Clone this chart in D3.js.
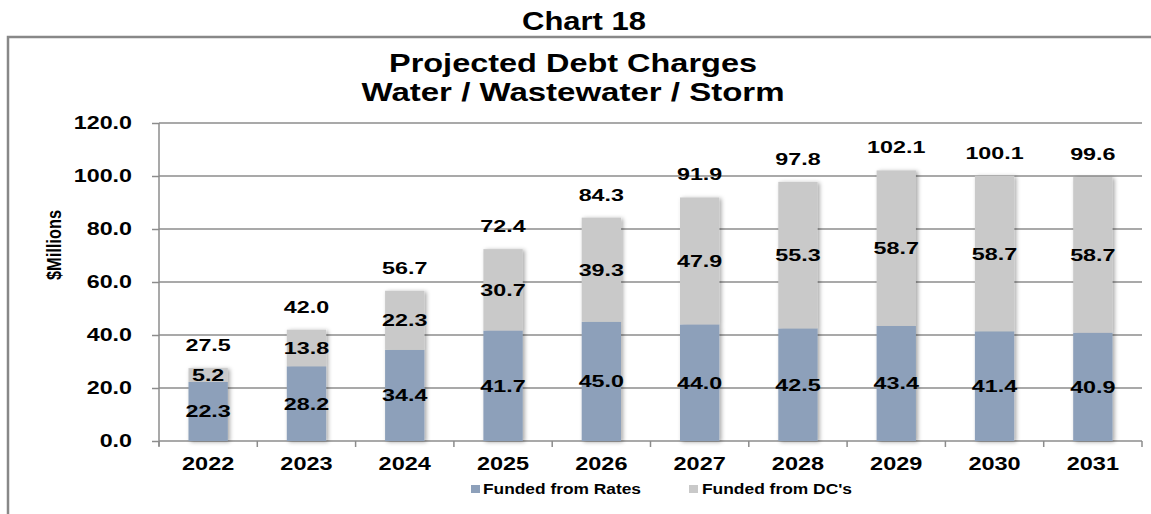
<!DOCTYPE html>
<html>
<head>
<meta charset="utf-8">
<script src="https://cdn.jsdelivr.net/npm/d3@7"></script>
<style>
  html, body { margin: 0; padding: 0; background: #fff; }
  svg { display: block; }
  text { font-family: "Liberation Sans", Arial, sans-serif; }
</style>
</head>
<body>
<svg id="chart" width="1151" height="514"></svg>
<script>
const years = ["2022","2023","2024","2025","2026","2027","2028","2029","2030","2031"];
const fundedFromRates = [22.3, 28.2, 34.4, 41.7, 45.0, 44.0, 42.5, 43.4, 41.4, 40.9];
const fundedFromDCs   = [5.2, 13.8, 22.3, 30.7, 39.3, 47.9, 55.3, 58.7, 58.7, 58.7];
const totals          = [27.5, 42.0, 56.7, 72.4, 84.3, 91.9, 97.8, 102.1, 100.1, 99.6];
const yTicks = [0, 20, 40, 60, 80, 100, 120];
const seriesNames = ["Funded from Rates", "Funded from DC's"];
const seriesColors = ["#8DA0BA", "#C9C9C9"];

const svg = d3.select("#chart");
const plot = { left: 159, right: 1142, top: 123, bottom: 441 };

const x = d3.scaleBand().domain(years).range([plot.left, plot.right])
  .paddingInner(0.6).paddingOuter(0.3);
const y = d3.scaleLinear().domain([0, 120]).range([plot.bottom, plot.top]);
const fmt = d3.format(".1f");

// stretch helper: widen text horizontally
function stretch(sel, sx) {
  sel.each(function() {
    const L = this.getComputedTextLength();
    d3.select(this).attr("textLength", L * sx).attr("lengthAdjust", "spacingAndGlyphs");
  });
}

// defs: shadow
const defs = svg.append("defs");
const f = defs.append("filter").attr("id", "shadow").attr("x", "-30%").attr("y", "-10%").attr("width", "160%").attr("height", "120%");
f.append("feDropShadow").attr("dx", 2).attr("dy", 1).attr("stdDeviation", 2)
  .attr("flood-color", "#000").attr("flood-opacity", 0.35);

// outer frame
svg.append("path").attr("d", "M8,514 V37 H1151")
  .attr("fill", "none").attr("stroke", "#888").attr("stroke-width", 2.5);

// titles
svg.append("text").attr("x", 584).attr("y", 29.5).attr("text-anchor", "middle")
  .attr("font-size", 26).attr("font-weight", "bold").attr("fill", "#000")
  .attr("textLength", 124).attr("lengthAdjust", "spacingAndGlyphs").text("Chart 18");
svg.append("text").attr("x", 573).attr("y", 72).attr("text-anchor", "middle")
  .attr("font-size", 26).attr("font-weight", "bold").attr("fill", "#000")
  .attr("textLength", 368).attr("lengthAdjust", "spacingAndGlyphs").text("Projected Debt Charges");
svg.append("text").attr("x", 573).attr("y", 101).attr("text-anchor", "middle")
  .attr("font-size", 26).attr("font-weight", "bold").attr("fill", "#000")
  .attr("textLength", 423).attr("lengthAdjust", "spacingAndGlyphs").text("Water / Wastewater / Storm");

// gridlines
svg.append("g").selectAll("line").data(yTicks.filter(d => d > 0)).join("line")
  .attr("x1", plot.left).attr("x2", plot.right)
  .attr("y1", d => y(d)).attr("y2", d => y(d))
  .attr("stroke", "#8c8c8c").attr("stroke-width", 1.5);

// y axis
const yAxis = svg.append("g").attr("transform", `translate(${plot.left},0)`)
  .call(d3.axisLeft(y).tickValues(yTicks).tickFormat(fmt).tickSize(7).tickPadding(20));
yAxis.select(".domain").attr("stroke", "#8c8c8c").attr("stroke-width", 1.5)
  .attr("d", `M0,${plot.top}V${plot.bottom + 5}`);
yAxis.selectAll(".tick line").attr("stroke", "#8c8c8c").attr("stroke-width", 1.5);
yAxis.selectAll(".tick text").attr("font-size", 17.5).attr("font-weight", "bold")
  .attr("fill", "#000").attr("font-family", "Liberation Sans, Arial, sans-serif");
stretch(yAxis.selectAll(".tick text"), 1.33);

// y axis title (glyphs widened horizontally like the rest of the picture)
svg.append("text").attr("transform", "translate(61,245) scale(1.3,1) rotate(-90)")
  .attr("text-anchor", "middle").attr("font-size", 15).attr("font-weight", "bold")
  .attr("fill", "#000").attr("textLength", 70).attr("lengthAdjust", "spacingAndGlyphs")
  .text("$Millions");

// x axis line and boundary ticks
svg.append("line").attr("x1", plot.left).attr("x2", plot.right)
  .attr("y1", plot.bottom).attr("y2", plot.bottom)
  .attr("stroke", "#8c8c8c").attr("stroke-width", 1.5);
const step = x.step();
const bounds = d3.range(years.length + 1).map(i => x(years[0]) - x.paddingOuter() * step + i * step);
svg.append("g").selectAll("line").data(bounds).join("line")
  .attr("x1", d => d).attr("x2", d => d)
  .attr("y1", plot.bottom).attr("y2", plot.bottom + 6)
  .attr("stroke", "#8c8c8c").attr("stroke-width", 1.5);

// x labels
const xl = svg.append("g").selectAll("text").data(years).join("text")
  .attr("x", d => x(d) + x.bandwidth() / 2).attr("y", 469.5)
  .attr("text-anchor", "middle").attr("font-size", 18.5).attr("font-weight", "bold")
  .attr("fill", "#000").text(d => d);
stretch(xl, 1.27);

// bars
const data = years.map((yr, i) => ({ yr, r: fundedFromRates[i], dc: fundedFromDCs[i], t: totals[i] }));
const bars = svg.append("g").attr("filter", "url(#shadow)");
bars.selectAll("rect.rates").data(data).join("rect").attr("class", "rates")
  .attr("x", d => x(d.yr)).attr("width", x.bandwidth())
  .attr("y", d => y(d.r)).attr("height", d => y(0) - y(d.r))
  .attr("fill", seriesColors[0]);
bars.selectAll("rect.dcs").data(data).join("rect").attr("class", "dcs")
  .attr("x", d => x(d.yr)).attr("width", x.bandwidth())
  .attr("y", d => y(d.r + d.dc)).attr("height", d => y(d.r) - y(d.r + d.dc))
  .attr("fill", seriesColors[1]);

// data labels
const lab = svg.append("g").attr("font-size", 16.3).attr("font-weight", "bold").attr("fill", "#000")
  .attr("text-anchor", "middle");
const l1 = lab.selectAll("text.lr").data(data).join("text").attr("class", "lr")
  .attr("x", d => x(d.yr) + x.bandwidth() / 2)
  .attr("y", d => (y(0) + y(d.r)) / 2 + 6).text(d => fmt(d.r));
const l2 = lab.selectAll("text.ld").data(data).join("text").attr("class", "ld")
  .attr("x", d => x(d.yr) + x.bandwidth() / 2)
  .attr("y", d => (y(d.r) + y(d.r + d.dc)) / 2 + 6).text(d => fmt(d.dc));
const l3 = lab.selectAll("text.lt").data(data).join("text").attr("class", "lt")
  .attr("x", d => x(d.yr) + x.bandwidth() / 2)
  .attr("y", d => y(d.r + d.dc) - 23 + 6).text(d => fmt(d.t));
stretch(l1, 1.43); stretch(l2, 1.43); stretch(l3, 1.43);

// legend
const legend = [
  { name: seriesNames[0], color: seriesColors[0], sx: 471, tx: 483, w: 158 },
  { name: seriesNames[1], color: seriesColors[1], sx: 689, tx: 702, w: 150 }
];
const lg = svg.append("g");
lg.selectAll("rect").data(legend).join("rect")
  .attr("x", d => d.sx).attr("y", 485).attr("width", 9).attr("height", 8)
  .attr("fill", d => d.color);
lg.selectAll("text").data(legend).join("text")
  .attr("x", d => d.tx).attr("y", 493.5).attr("font-size", 14).attr("font-weight", "bold")
  .attr("fill", "#000").attr("textLength", d => d.w).attr("lengthAdjust", "spacingAndGlyphs")
  .text(d => d.name);
</script>
</body>
</html>
